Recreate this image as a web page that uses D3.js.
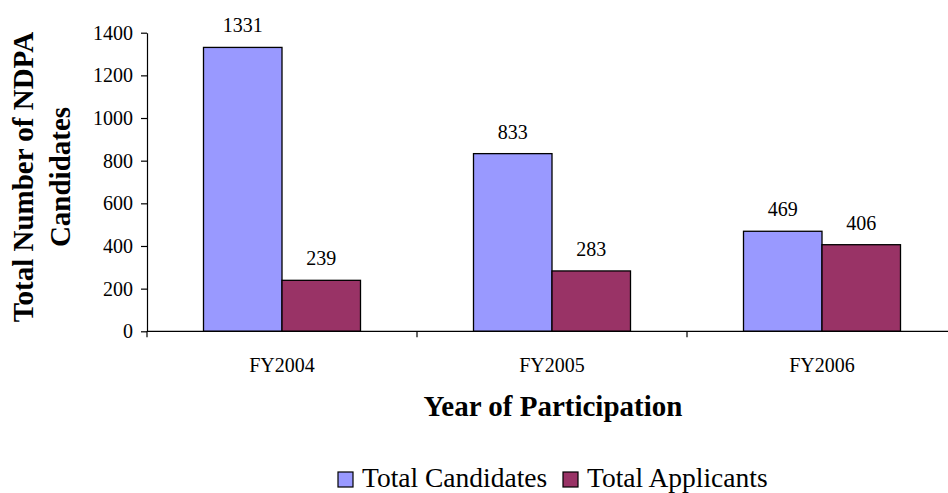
<!DOCTYPE html>
<html>
<head>
<meta charset="utf-8">
<script src="https://cdn.jsdelivr.net/npm/d3@7"></script>
<style>
  html, body { margin: 0; padding: 0; background: #fff; }
  svg { display: block; }
  svg text { font-family: 'Liberation Serif', 'Times New Roman', serif !important; fill: #000; }
</style>
</head>
<body>
<svg id="chart" width="948" height="493"></svg>
<script>
const categories = ["FY2004", "FY2005", "FY2006"];
const seriesNames = ["Total Candidates", "Total Applicants"];
const totalCandidates = [1331, 833, 469];
const totalApplicants = [239, 283, 406];
const yTicks = [0, 200, 400, 600, 800, 1000, 1200, 1400];
const seriesColors = ["#9999FF", "#993366"];

const FONT = "'Liberation Serif', 'Times New Roman', serif";
const svg = d3.select("#chart").attr("font-family", FONT);
const plotLeft = 147, plotRight = 957, plotTop = 32.7, plotBottom = 331.3;

const x0 = d3.scaleBand().domain(categories).range([plotLeft, plotRight]).paddingInner(0).paddingOuter(0);
const groupW = 157;
const x1 = d3.scaleBand().domain(seriesNames).range([0, groupW]).padding(0);
const y = d3.scaleLinear().domain([0, 1400]).range([plotBottom, plotTop]);

const seriesValues = [totalCandidates, totalApplicants];
const rows = [];
categories.forEach((c, i) => {
  seriesNames.forEach((s, j) => rows.push({ cat: c, series: s, value: seriesValues[j][i], color: seriesColors[j] }));
});

// bars
svg.append("g").selectAll("rect").data(rows).join("rect")
  .attr("x", d => x0(d.cat) + (x0.bandwidth() - groupW) / 2 + x1(d.series))
  .attr("y", d => y(d.value))
  .attr("width", x1.bandwidth())
  .attr("height", d => y(0) - y(d.value))
  .attr("fill", d => d.color)
  .attr("stroke", "#000")
  .attr("stroke-width", 1.3);

// value labels
svg.append("g").selectAll("text").data(rows).join("text")
  .attr("x", d => x0(d.cat) + (x0.bandwidth() - groupW) / 2 + x1(d.series) + x1.bandwidth() / 2)
  .attr("y", d => y(d.value) - 15)
  .attr("text-anchor", "middle")
  .attr("font-family", FONT)
  .attr("font-size", 20)
  .text(d => d.value);

// y axis
const yAxis = d3.axisLeft(y).tickValues(yTicks).tickFormat(d3.format("d"))
  .tickSize(6).tickSizeOuter(0).tickPadding(8);
const gy = svg.append("g").attr("transform", `translate(${plotLeft},0)`).call(yAxis);
gy.attr("font-family", FONT).attr("font-size", 20);
gy.select(".domain").attr("stroke", "#000").attr("stroke-width", 1.2);
gy.selectAll(".tick line").attr("stroke", "#000").attr("stroke-width", 1.2);
gy.selectAll(".tick text").attr("font-size", 20).attr("font-family", FONT);

// x axis
const gx = svg.append("g").attr("transform", `translate(0,${plotBottom})`);
gx.append("line").attr("x1", plotLeft).attr("x2", plotRight).attr("y1", 0).attr("y2", 0)
  .attr("stroke", "#000").attr("stroke-width", 1.2);
const bounds = categories.map(c => x0(c)).concat([plotRight]);
gx.selectAll("line.tk").data(bounds).join("line").attr("class", "tk")
  .attr("x1", d => d).attr("x2", d => d).attr("y1", 0).attr("y2", 6)
  .attr("stroke", "#000").attr("stroke-width", 1.2);
gx.selectAll("text").data(categories).join("text")
  .attr("x", d => x0(d) + x0.bandwidth() / 2)
  .attr("y", 40.5)
  .attr("text-anchor", "middle")
  .attr("font-family", FONT)
  .attr("font-size", 20)
  .text(d => d);

// axis titles
svg.append("text")
  .attr("x", 553).attr("y", 416)
  .attr("text-anchor", "middle")
  .attr("font-family", FONT)
  .attr("font-size", 29).attr("font-weight", "bold")
  .text("Year of Participation");

const yTitleLines = ["Total Number of NDPA", "Candidates"];
svg.append("g").selectAll("text").data(yTitleLines).join("text")
  .attr("transform", (d, i) => `translate(${33 + i * 37},177) rotate(-90)`)
  .attr("text-anchor", "middle")
  .attr("font-family", FONT)
  .attr("font-size", 29).attr("font-weight", "bold")
  .text(d => d);

// legend
const legendX = [338, 563];
const lg = svg.append("g");
seriesNames.forEach((s, i) => {
  lg.append("rect").attr("x", legendX[i]).attr("y", 472).attr("width", 15).attr("height", 15)
    .attr("fill", seriesColors[i]).attr("stroke", "#000").attr("stroke-width", 1.2);
  lg.append("text").attr("x", legendX[i] + 24).attr("y", 487)
    .attr("font-family", FONT)
    .attr("font-size", 27.5).text(s);
});
</script>
</body>
</html>
